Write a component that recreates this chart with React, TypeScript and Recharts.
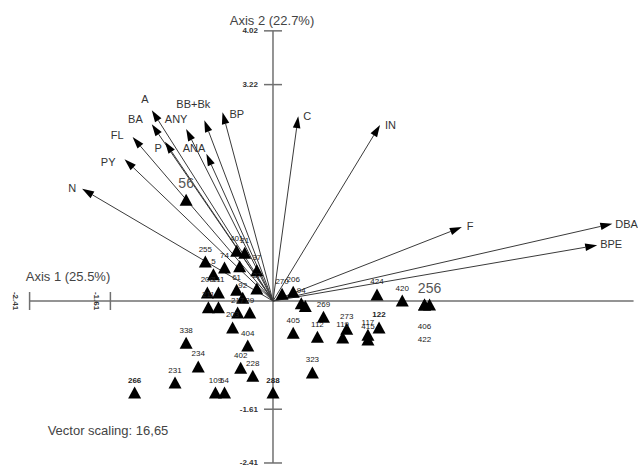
import React from "react";
import { ScatterChart, Scatter, XAxis, YAxis } from "recharts";

const FONT = "Arial, 'Liberation Sans', Helvetica, sans-serif";

// species / variable vectors (axis units)
const vectorNames = ["N", "PY", "FL", "BA", "A", "P", "ANY", "BB+Bk", "ANA", "BP", "C", "IN", "F", "DBA", "BPE"];
const vectorX = [-1.89, -1.47, -1.39, -1.2, -1.2, -1.07, -0.86, -0.68, -0.66, -0.5, 0.25, 1.06, 1.87, 3.36, 3.21];
const vectorY = [1.67, 2.11, 2.44, 2.63, 2.84, 2.37, 2.56, 2.69, 2.19, 2.81, 2.75, 2.62, 1.1, 1.15, 0.83];

// sites
const siteLabels = [
  "255", "5", "74", "401", "21", "", "37", "208", "111", "61", "27", "92", "211", "", "217", "29", "203",
  "270", "206", "94", "", "405", "112", "269", "273", "119", "117", "415", "122", "424", "420", "",
  "323", "338", "404", "234", "402", "228", "231", "266", "109", "54", "288",
];
const siteX = [
  -0.67, -0.59, -0.48, -0.36, -0.28, -0.33, -0.16, -0.65, -0.54, -0.36, -0.16, -0.3, -0.64, -0.54, -0.35, -0.23, -0.4,
  0.09, 0.2, 0.28, 0.32, 0.2, 0.44, 0.5, 0.73, 0.69, 0.94, 0.94, 1.05, 1.03, 1.28, 1.5,
  0.39, -0.86, -0.25, -0.74, -0.32, -0.2, -0.97, -1.37, -0.57, -0.48, 0.0,
];
const siteY = [
  0.58, 0.39, 0.49, 0.74, 0.71, 0.51, 0.45, 0.12, 0.12, 0.16, 0.18, 0.04, -0.1, -0.1, -0.18, -0.18, -0.4,
  0.1, 0.13, -0.04, -0.08, -0.48, -0.54, -0.24, -0.42, -0.55, -0.51, -0.58, -0.4, 0.09, 0.0, -0.06,
  -1.07, -0.63, -0.67, -0.98, -1.0, -1.12, -1.22, -1.37, -1.37, -1.37, -1.37,
];

// sites drawn with a large label
const bigLabels = ["56", "256"];
const bigX = [-0.86, 1.55];
const bigY = [1.5, -0.06];

// labels whose markers are hidden under other sites
const strayLabels = ["406", "422"];
const strayX = [1.5, 1.5];
const strayY = [-0.57, -0.76];

const yTickValues = [4.02, 3.22, -1.61, -2.41];
const xTickValues = [-2.41, -1.61];

const X_DOMAIN: [number, number] = [-2.703, 3.614];
const Y_DOMAIN: [number, number] = [-2.44, 4.479];

const AXIS_COLOR = "#707070";

const labelPlacement: Record<string, { dx: number; dy: number; anchor: "start" | "middle" | "end" }> = {
  N: { dx: -6, dy: -1, anchor: "end" },
  PY: { dx: -9, dy: 3, anchor: "end" },
  FL: { dx: -9, dy: -2, anchor: "end" },
  BA: { dx: -9, dy: -5, anchor: "end" },
  A: { dx: -7, dy: -11, anchor: "middle" },
  P: { dx: -3, dy: 6, anchor: "end" },
  ANY: { dx: -10, dy: -10, anchor: "middle" },
  "BB+Bk": { dx: -11, dy: -16, anchor: "middle" },
  ANA: { dx: -1, dy: -6, anchor: "end" },
  BP: { dx: 7, dy: 2, anchor: "start" },
  C: { dx: 5, dy: 0, anchor: "start" },
  IN: { dx: 5, dy: 0, anchor: "start" },
  F: { dx: 5, dy: -1, anchor: "start" },
  DBA: { dx: 3, dy: 0, anchor: "start" },
  BPE: { dx: 3, dy: -1, anchor: "start" },
};

const sites = siteLabels.map((label, i) => ({ label, x: siteX[i], y: siteY[i] }));
const bigSites = bigLabels.map((label, i) => ({ label, x: bigX[i], y: bigY[i] }));
const straySites = strayLabels.map((label, i) => ({ label, x: strayX[i], y: strayY[i] }));
const yTicks = yTickValues.map((v) => ({ x: 0, y: v, label: v.toFixed(2) }));
const xTicks = xTickValues.map((v) => ({ x: v, y: 0, label: v.toFixed(2) }));

const noDot = () => <g />;

function makeArrow(name: string) {
  return (props: any) => {
    const pts = props.points;
    if (!pts || pts.length < 2) return <g />;
    const p0 = pts[0];
    const p1 = pts[1];
    const ang = Math.atan2(p1.y - p0.y, p1.x - p0.x);
    const len = 12;
    const half = 3.8;
    const bx = p1.x - len * Math.cos(ang);
    const by = p1.y - len * Math.sin(ang);
    const nx = -Math.sin(ang) * half;
    const ny = Math.cos(ang) * half;
    const lp = labelPlacement[name];
    return (
      <g>
        <line x1={p0.x} y1={p0.y} x2={bx} y2={by} stroke="#3a3a3a" strokeWidth={1} />
        <polygon
          points={`${p1.x},${p1.y} ${bx + nx},${by + ny} ${bx - nx},${by - ny}`}
          fill="#000"
        />
        <text
          x={p1.x + lp.dx}
          y={p1.y + lp.dy}
          textAnchor={lp.anchor}
          dominantBaseline="central"
          fontSize={11}
          fontFamily={FONT}
          fill="#333"
        >
          {name}
        </text>
      </g>
    );
  };
}

function triangle(cx: number, cy: number) {
  return `${cx},${cy - 6.5} ${cx - 6.5},${cy + 5.5} ${cx + 6.5},${cy + 5.5}`;
}

const SiteShape = (props: any) => {
  const { cx, cy, payload } = props;
  const bold = payload.label === "266" || payload.label === "288" || payload.label === "122";
  return (
    <g>
      <polygon points={triangle(cx, cy)} fill="#000" />
      {payload.label ? (
        <text
          x={cx}
          y={cy - 13}
          textAnchor="middle"
          dominantBaseline="central"
          fontSize={8}
          fontWeight={bold ? "bold" : "normal"}
          fontFamily={FONT}
          fill="#222"
        >
          {payload.label}
        </text>
      ) : null}
    </g>
  );
};

const BigSiteShape = (props: any) => {
  const { cx, cy, payload } = props;
  return (
    <g>
      <polygon points={triangle(cx, cy)} fill="#000" />
      {payload.label === "256" ? <polygon points={triangle(cx - 5, cy)} fill="#000" /> : null}
      <text
        x={cx}
        y={cy - 17}
        textAnchor="middle"
        dominantBaseline="central"
        fontSize={14}
        fontFamily={FONT}
        fill="#555"
      >
        {payload.label}
      </text>
    </g>
  );
};

const StrayShape = (props: any) => {
  const { cx, cy, payload } = props;
  return (
    <text
      x={cx}
      y={cy - 13}
      textAnchor="middle"
      dominantBaseline="central"
      fontSize={8}
      fontFamily={FONT}
      fill="#222"
    >
      {payload.label}
    </text>
  );
};

const YTickShape = (props: any) => {
  const { cx, cy, payload } = props;
  return (
    <g>
      <line x1={cx - 9} y1={cy} x2={cx + 9} y2={cy} stroke={AXIS_COLOR} strokeWidth={1.5} />
      <text
        x={cx - 15}
        y={cy}
        textAnchor="end"
        dominantBaseline="central"
        fontSize={8}
        fontWeight="bold"
        fontFamily={FONT}
        fill="#333"
      >
        {payload.label}
      </text>
    </g>
  );
};

const XTickShape = (props: any) => {
  const { cx, cy, payload } = props;
  return (
    <g>
      <line x1={cx} y1={cy - 9} x2={cx} y2={cy + 9} stroke={AXIS_COLOR} strokeWidth={1.5} />
      <text
        x={cx - 14}
        y={cy}
        textAnchor="middle"
        dominantBaseline="central"
        fontSize={8}
        fontWeight="bold"
        fontFamily={FONT}
        fill="#333"
        transform={`rotate(90 ${cx - 14} ${cy})`}
      >
        {payload.label}
      </text>
    </g>
  );
};

const titleStyle: React.CSSProperties = {
  position: "absolute",
  transform: "translate(-50%, -50%)",
  fontFamily: FONT,
  fontSize: 13,
  color: "#444",
  whiteSpace: "nowrap",
  lineHeight: 1,
};

export default function App() {
  return (
    <div
      style={{ position: "absolute", left: 0, top: 0, width: 638, height: 465, background: "#fff", overflow: "hidden" }}
    >
      <ScatterChart width={638} height={465} margin={{ top: 0, right: 0, bottom: 0, left: 0 }}>
        <XAxis type="number" dataKey="x" domain={X_DOMAIN} allowDataOverflow hide />
        <YAxis type="number" dataKey="y" domain={Y_DOMAIN} allowDataOverflow hide />
        <Scatter
          data={[{ x: 0, y: -2.41 }, { x: 0, y: 4.02 }]}
          shape={noDot}
          line={{ stroke: AXIS_COLOR, strokeWidth: 1.5 }}
          isAnimationActive={false}
        />
        <Scatter
          data={[{ x: -2.41, y: 0 }, { x: 3.57, y: 0 }]}
          shape={noDot}
          line={{ stroke: AXIS_COLOR, strokeWidth: 1.5 }}
          isAnimationActive={false}
        />
        <Scatter data={yTicks} shape={YTickShape} isAnimationActive={false} />
        <Scatter data={xTicks} shape={XTickShape} isAnimationActive={false} />
        {vectorNames.map((name, i) => (
          <Scatter
            key={name}
            data={[{ x: 0, y: 0 }, { x: vectorX[i], y: vectorY[i] }]}
            shape={noDot}
            line={makeArrow(name)}
            isAnimationActive={false}
          />
        ))}
        <Scatter data={straySites} shape={StrayShape} isAnimationActive={false} />
        <Scatter data={sites} shape={SiteShape} isAnimationActive={false} />
        <Scatter data={bigSites} shape={BigSiteShape} isAnimationActive={false} />
      </ScatterChart>
      <div style={{ ...titleStyle, left: 272, top: 20 }}>Axis 2 (22.7%)</div>
      <div style={{ ...titleStyle, left: 68, top: 276 }}>Axis 1 (25.5%)</div>
      <div style={{ ...titleStyle, left: 108, top: 430 }}>Vector scaling: 16,65</div>
    </div>
  );
}
